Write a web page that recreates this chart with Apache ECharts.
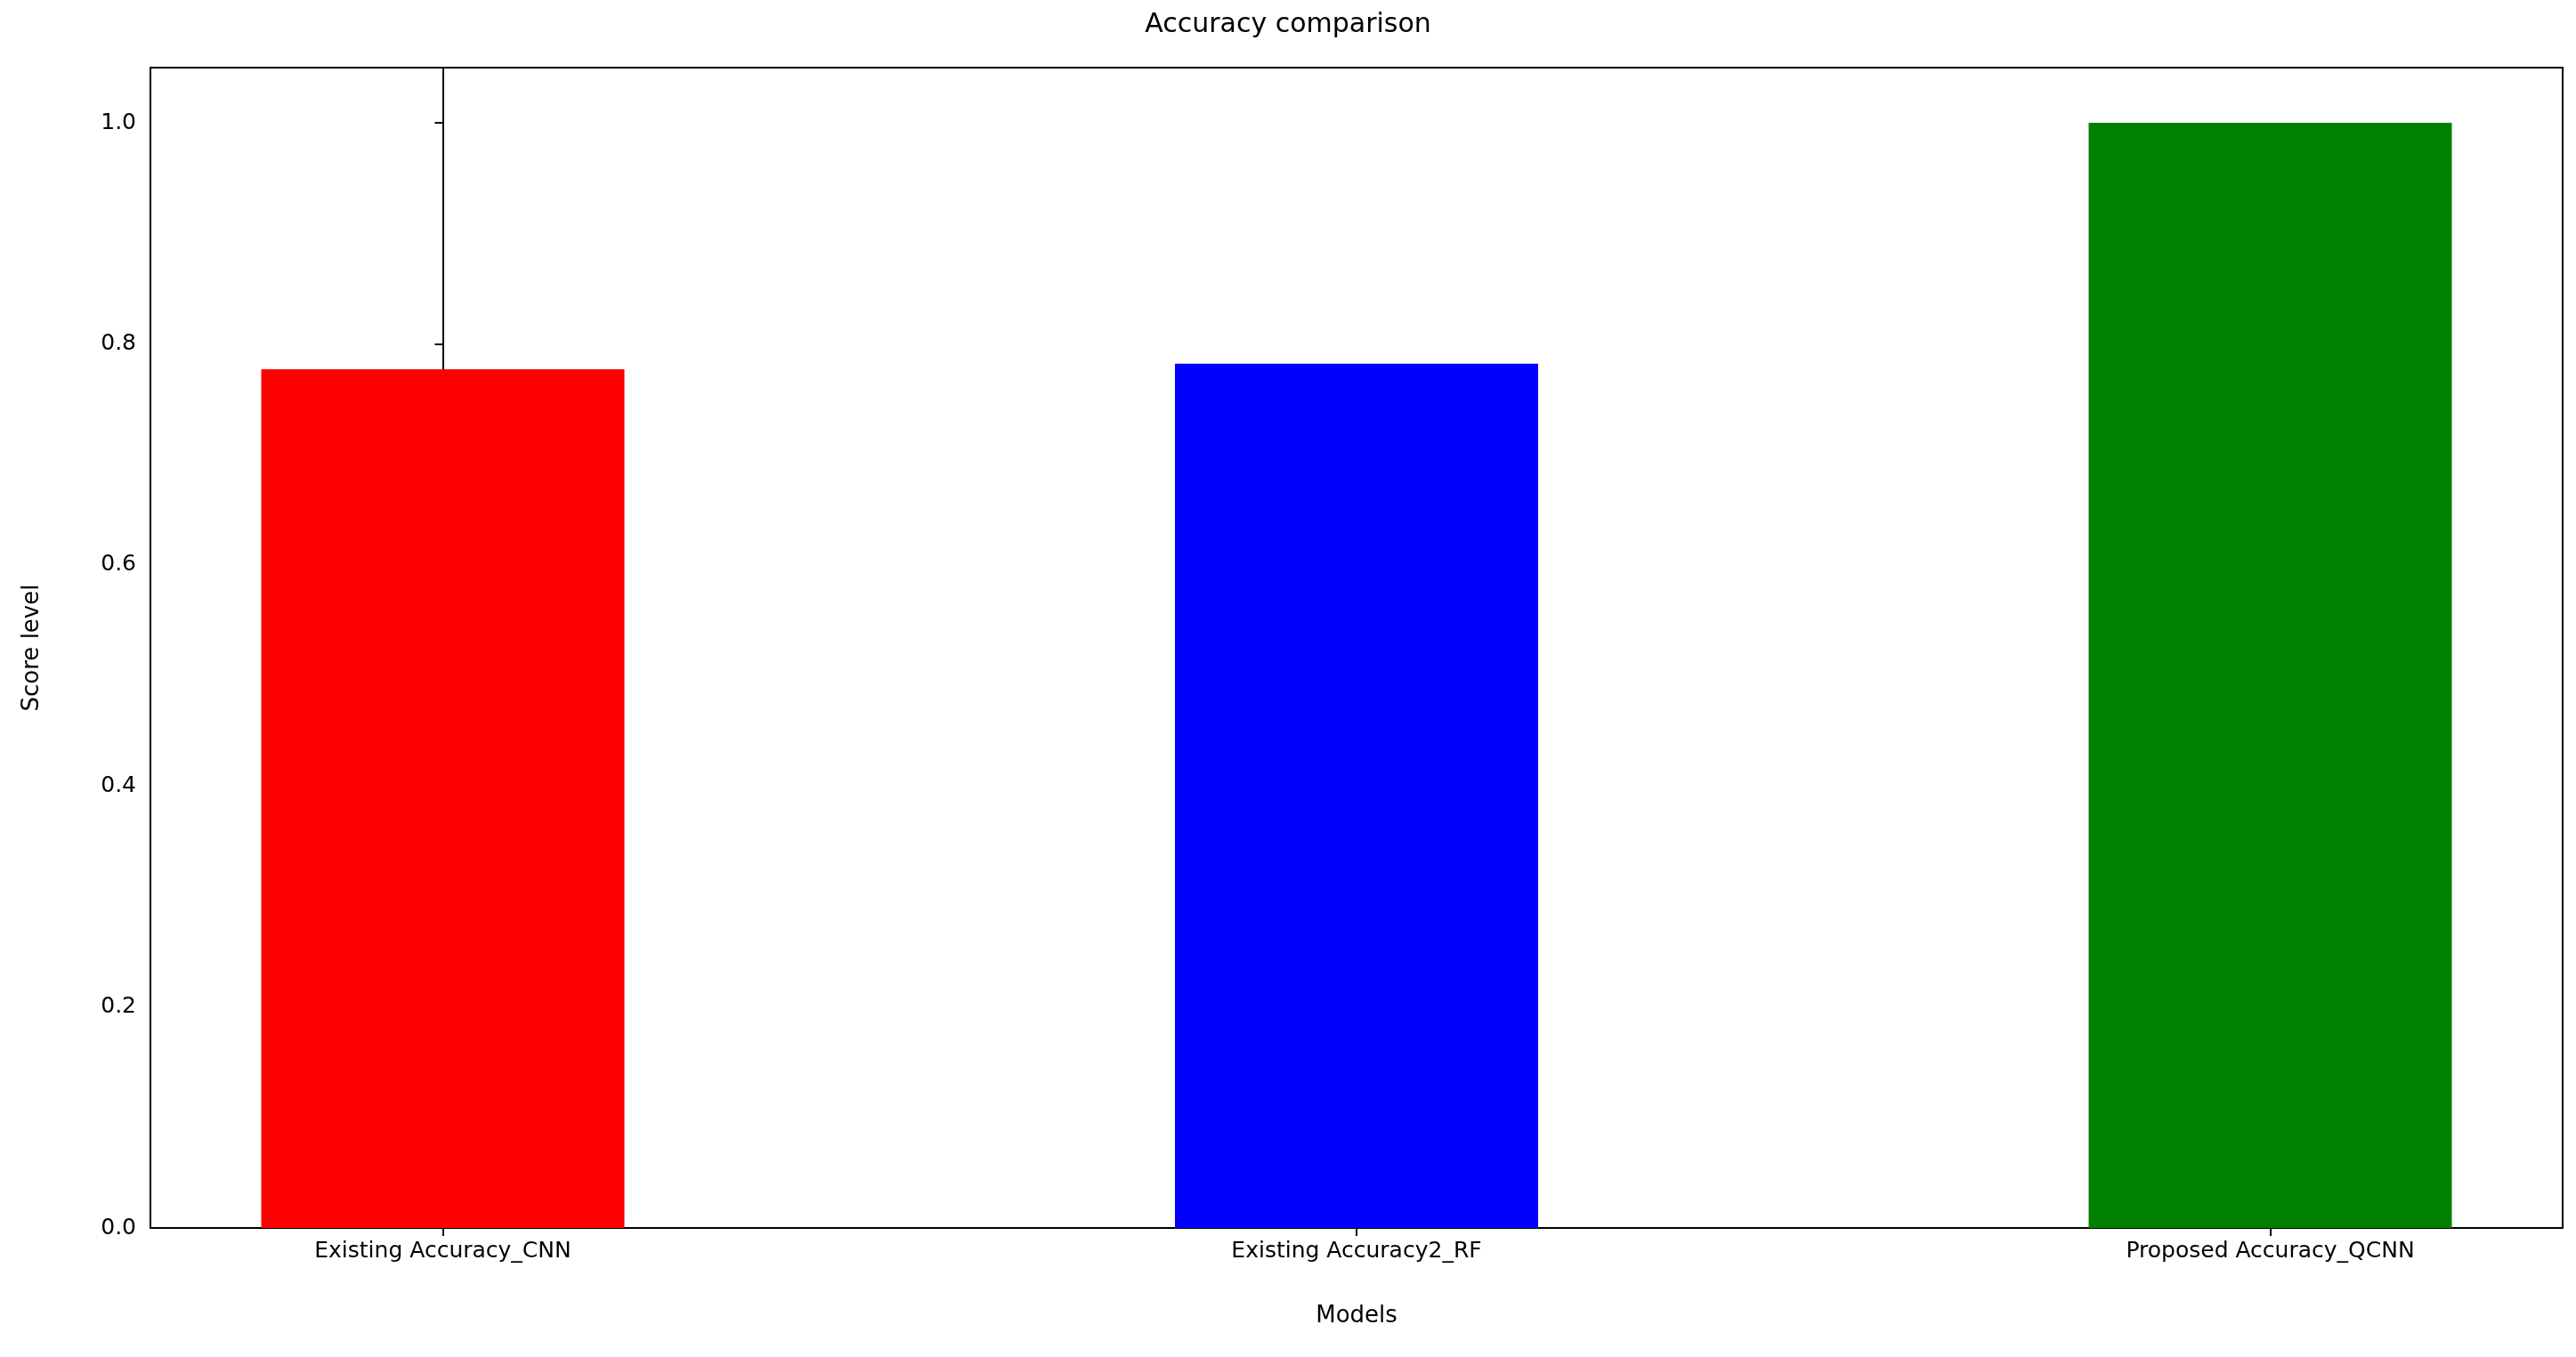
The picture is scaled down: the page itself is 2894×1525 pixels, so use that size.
<!DOCTYPE html>
<html>
<head>
<meta charset="utf-8">
<script src="https://cdn.jsdelivr.net/npm/echarts@6/dist/echarts.min.js"></script>
<style>html,body{margin:0;padding:0;background:#fff}#main{width:2894px;height:1525px}</style>
</head>
<body>
<div id="main"></div>
<script>
// 模型名称与准确率
const models = ['Existing Accuracy_CNN', 'Existing Accuracy2_RF', 'Proposed Accuracy_QCNN'];
const scores = [0.777, 0.782, 1.0];
const barColors = ['#ff0000', '#0000ff', '#008000'];
const yTicks = [0, 0.2, 0.4, 0.6, 0.8, 1.0];

const chart = echarts.init(document.getElementById('main'));
const font = 'DejaVu Sans';
const option = {
  animation: false,
  title: {
    text: 'Accuracy comparison', left: 'center', top: 8,
    textStyle: { fontFamily: font, fontSize: 30, fontWeight: 'normal', color: '#000' }
  },
  grid: {
    left: 169, right: 15, top: 76, bottom: 145,
    show: true, borderColor: '#000', borderWidth: 2, backgroundColor: '#fff'
  },
  xAxis: {
    type: 'value', min: -0.32, max: 2.32,
    name: 'Models', nameLocation: 'middle', nameGap: 86,
    nameTextStyle: { fontFamily: font, fontSize: 26, color: '#000' },
    splitLine: { show: false },
    axisLine: { show: true, onZero: false, lineStyle: { color: '#000', width: 2 } },
    axisTick: { show: true, customValues: [0, 1, 2], length: 9, lineStyle: { color: '#000', width: 2 } },
    axisLabel: {
      customValues: [0, 1, 2], margin: 14,
      fontFamily: font, fontSize: 25, color: '#000',
      formatter: v => models[Math.round(v)]
    }
  },
  yAxis: {
    type: 'value', min: 0, max: 1.05,
    name: 'Score level', nameLocation: 'middle', nameGap: 120,
    nameTextStyle: { fontFamily: font, fontSize: 26, color: '#000' },
    splitLine: { show: false },
    axisLine: { show: true, lineStyle: { color: '#000', width: 2 } },
    axisTick: { show: true, customValues: yTicks, length: 9, lineStyle: { color: '#000', width: 2 } },
    axisLabel: {
      customValues: yTicks, margin: 16,
      fontFamily: font, fontSize: 25, color: '#000',
      formatter: v => v.toFixed(1)
    }
  },
  series: [{
    type: 'bar',
    barWidth: 408,
    data: scores.map((v, i) => ({ value: [i, v], itemStyle: { color: barColors[i] } }))
  }]
};
chart.setOption(option);
</script>
</body>
</html>
